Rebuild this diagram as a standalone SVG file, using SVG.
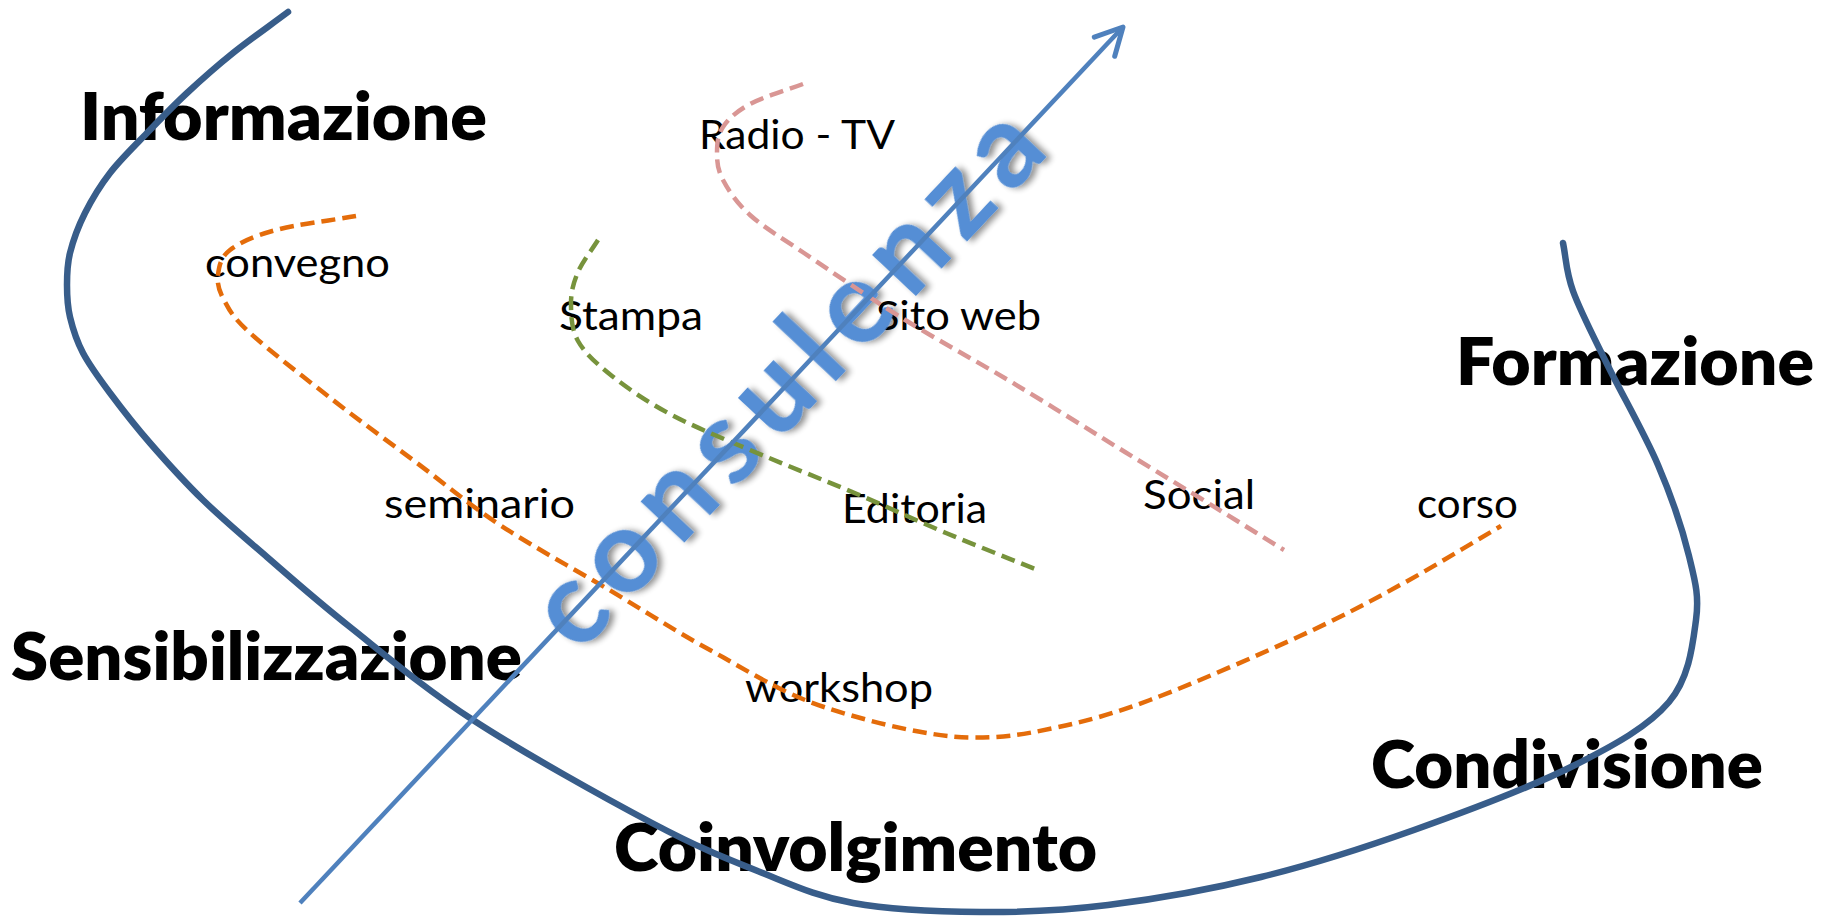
<svg xmlns="http://www.w3.org/2000/svg" width="1835" height="916" viewBox="0 0 1835 916">
<style>
.title{font-family:Lato,"Liberation Sans",sans-serif;font-weight:800;font-size:67px;fill:#000}
.lbl{font-family:Lato,"Liberation Sans",sans-serif;font-size:41px;fill:#000}
.main{fill:none;stroke:#385d8a;stroke-width:6.5;stroke-linecap:round}
.dash{fill:none;stroke-width:4.5;stroke-dasharray:14 7}
</style>
<defs>
<filter id="sh" x="-20%" y="-20%" width="140%" height="140%">
<feGaussianBlur in="SourceAlpha" stdDeviation="3"/>
<feOffset dx="3" dy="4" result="b"/>
<feComponentTransfer><feFuncA type="linear" slope="0.45"/></feComponentTransfer>
<feMerge><feMergeNode/><feMergeNode in="SourceGraphic"/></feMerge>
</filter>
<marker id="arr" markerUnits="userSpaceOnUse" markerWidth="40" markerHeight="40" refX="30" refY="15" orient="auto" overflow="visible">
<path d="M3,1 L30,15 L3,29" fill="none" stroke="#4f81bd" stroke-width="5" stroke-linecap="round" stroke-linejoin="round"/>
</marker>
</defs>
<rect width="1835" height="916" fill="#fff"/>

<g id="titles">
<g id="informazione"><text class="title" x="80" y="140" textLength="407" lengthAdjust="spacingAndGlyphs">Informazione</text></g>
<g id="sensibilizzazione"><text class="title" x="11" y="680" textLength="511" lengthAdjust="spacingAndGlyphs">Sensibilizzazione</text></g>
<g id="coinvolgimento"><text class="title" x="614" y="871" textLength="483" lengthAdjust="spacingAndGlyphs">Coinvolgimento</text></g>
<g id="formazione"><text class="title" x="1456" y="385" textLength="358" lengthAdjust="spacingAndGlyphs">Formazione</text></g>
<g id="condivisione"><text class="title" x="1371" y="788" textLength="392" lengthAdjust="spacingAndGlyphs">Condivisione</text></g>
</g>

<g id="labels">
<g id="radio-tv"><text class="lbl" x="699" y="149" textLength="196" lengthAdjust="spacingAndGlyphs">Radio - TV</text></g>
<g id="convegno"><text class="lbl" x="205" y="277" textLength="185" lengthAdjust="spacingAndGlyphs">convegno</text></g>
<g id="stampa"><text class="lbl" x="559" y="330" textLength="144" lengthAdjust="spacingAndGlyphs">Stampa</text></g>
<g id="sito-web"><text class="lbl" x="876" y="330" textLength="165" lengthAdjust="spacingAndGlyphs">Sito web</text></g>
<g id="seminario"><text class="lbl" x="384" y="518" textLength="191" lengthAdjust="spacingAndGlyphs">seminario</text></g>
<g id="editoria"><text class="lbl" x="842" y="523" textLength="145" lengthAdjust="spacingAndGlyphs">Editoria</text></g>
<g id="social"><text class="lbl" x="1143" y="509" textLength="112" lengthAdjust="spacingAndGlyphs">Social</text></g>
<g id="corso"><text class="lbl" x="1417" y="518" textLength="101" lengthAdjust="spacingAndGlyphs">corso</text></g>
<g id="workshop"><text class="lbl" x="745" y="702" textLength="188" lengthAdjust="spacingAndGlyphs">workshop</text></g>
</g>

<g id="consulenza">
<text transform="translate(789,380) rotate(-46.8)" x="0" y="35" text-anchor="middle" font-family="Lato,'Liberation Sans',sans-serif" font-weight="bold" font-size="116" fill="#558ed5" textLength="690" lengthAdjust="spacing" filter="url(#sh)">consulenza</text>
</g>

<g id="connectors">
<path id="main-curve" class="main" d="M288,12 C269.7,25.7 249.8,39.5 233,53 C216.2,66.5 201.3,79.7 187,93 C172.7,106.3 159.8,119.7 147,133 C134.2,146.3 120.3,159.7 110,173 C99.7,186.3 91.7,199.7 85,213 C78.3,226.3 73,241 70,253 C67,265 67,274.3 67,285 C67,295.7 67.3,305.7 70,317 C72.7,328.3 76.3,340.3 83,353 C89.7,365.7 98.8,378 110,393 C121.2,408 134.5,425.2 150,443 C165.5,460.8 183.5,481 203,500 C222.5,519 242.5,535.8 267,557 C291.5,578.2 315.7,599.8 350,627 C384.3,654.2 422.7,687.3 473,720 C523.3,752.7 604.2,797.7 652,823 C699.8,848.3 726.5,858.7 760,872 C793.5,885.3 816.2,896.3 853,903 C889.8,909.7 938.5,911.7 981,912 C1023.5,912.3 1061.3,910.8 1108,905 C1154.7,899.2 1210,889.5 1261,877 C1312,864.5 1362,848.5 1414,830 C1466,811.5 1530.5,787.3 1573,766 C1615.5,744.7 1648.5,726.3 1669,702 C1689.5,677.7 1692.7,644.3 1696,620 C1699.3,595.7 1695.3,581.8 1689,556 C1682.7,530.2 1671.7,497 1658,465 C1644.3,433 1621.2,393 1607,364 C1592.8,335 1580.3,311.2 1573,291 C1565.7,270.8 1566.3,259 1563,243"/>
<path id="orange" class="dash" stroke="#e46c0a" d="M356,216 C329.3,220.7 297,224.3 276,230 C255,235.7 239.7,242.5 230,250 C220.3,257.5 219,266.7 218,275 C217,283.3 218.7,290.3 224,300 C229.3,309.7 231.8,316.3 250,333 C268.2,349.7 305.2,378.3 333,400 C360.8,421.7 389.2,442.2 417,463 C444.8,483.8 468.5,504.2 500,525 C531.5,545.8 571,567.2 606,588 C641,608.8 673.7,630.2 710,650 C746.3,669.8 780.2,692.5 824,707 C867.8,721.5 930,737 970,737.5 C1005,738 1024.5,734.2 1054,728 C1083.5,721.8 1109,715.3 1150,700 C1191,684.7 1258,655.3 1300,636 C1342,616.7 1368.5,602.3 1402,584 C1435.5,565.7 1468,545.3 1501,526"/>
<path id="pink" class="dash" stroke="#d99694" d="M803,84 C785.3,90.7 763.3,96.8 750,104 C736.7,111.2 728.5,118.8 723,127 C717.5,135.2 717,144.2 717,153 C717,161.8 717.5,169.7 723,180 C728.5,190.3 736.5,202.8 750,215 C763.5,227.2 778.7,235.8 804,253 C829.3,270.2 867.2,296.3 902,318 C936.8,339.7 975.8,360.7 1013,383 C1050.2,405.3 1093.8,432.8 1125,452 C1156.2,471.2 1173.5,481.7 1200,498 C1226.5,514.3 1256,532.7 1284,550"/>
<path id="green" class="dash" stroke="#77933c" d="M598,240 C591.3,250.7 582.5,261.5 578,272 C573.5,282.5 571,291.5 571,303 C571,314.5 571.2,328.8 578,341 C584.8,353.2 596.7,363.8 612,376 C627.3,388.2 647,401.7 670,414 C693,426.3 718.8,436.7 750,450 C781.2,463.3 824.3,480.2 857,494 C889.7,507.8 915.5,520.2 946,533 C976.5,545.8 1008.7,558.3 1040,571"/>
<line id="arrow" x1="300" y1="903" x2="1123" y2="27" stroke="#4f81bd" stroke-width="4.5" marker-end="url(#arr)"/>
</g>
</svg>
